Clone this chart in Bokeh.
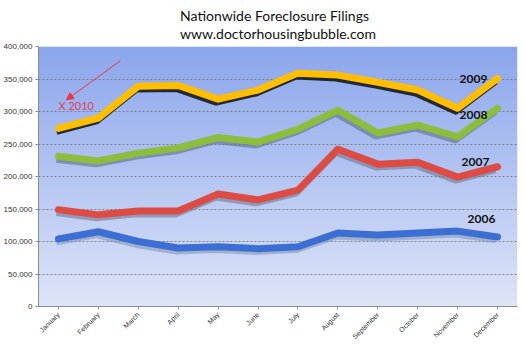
import numpy as np
from bokeh.plotting import figure
from bokeh.models import ColumnDataSource, NumeralTickFormatter, Title, Arrow, NormalHead, Label, FixedTicker
from bokeh.transform import dodge
from bokeh.core.properties import value
from bokeh.embed import file_html
from bokeh.resources import INLINE

months = ["January", "February", "March", "April", "May", "June", "July",
          "August", "September", "October", "November", "December"]
y2006 = [104000, 115000, 100000, 90000, 92000, 89000, 92000, 113000, 110000, 113000, 116000, 107000]
y2007 = [149000, 141000, 147000, 147000, 173000, 164000, 179000, 242000, 219000, 222000, 199000, 215000]
y2008 = [231000, 224000, 236000, 244000, 260000, 253000, 273000, 302000, 267000, 279000, 261000, 305000]
y2009 = [274000, 290000, 339000, 340000, 319000, 333000, 359000, 356000, 345000, 333000, 305000, 351000]
series_names = ["2006", "2007", "2008", "2009"]
series_vals = [y2006, y2007, y2008, y2009]
yticks = [0, 50000, 100000, 150000, 200000, 250000, 300000, 350000, 400000]
title_lines = ["Nationwide Foreclosure Filings", "www.doctorhousingbubble.com"]

colors = {"2006": "#3b6fd3", "2007": "#dc4b44", "2008": "#8dbd3d", "2009": "#ffbe00"}
shadows = {"2006": "#7f8fb0", "2007": "#6f7890", "2008": "#5f6e8c", "2009": "#111111"}
shadow_alpha = {"2006": 0.55, "2007": 0.6, "2008": 0.6, "2009": 0.85}
# label pixel offsets relative to the December point (style only)
lab_off = {"2006": (-16, -18), "2007": (-22, -5), "2008": (-24, 7), "2009": (-24, 1)}

FONT = "Lato"

p = figure(x_range=months, y_range=(0, 400000), width=524, height=348,
           output_backend="svg", toolbar_location=None,
           min_border_left=35, min_border_right=7, min_border_bottom=42, min_border_top=45)
p.outline_line_color = None
p.background_fill_color = "white"
p.border_fill_color = "white"

# title (two lines)
t = Title(text="\n".join(title_lines), align="center", text_font=FONT,
          text_font_size="14px", text_font_style="normal", text_color="#111111",
          standoff=8, offset=0, text_line_height=1.1)
p.add_layout(t, "above")

# gradient background of the plot area
n = 256
top = np.array([139, 166, 236])
bot = np.array([222, 229, 248])
frac = np.linspace(0, 1, n)[:, None]
cols = (bot * (1 - frac) + top * frac).astype(np.uint32)
img = np.empty((n, 1), dtype=np.uint32)
view = img.view(dtype=np.uint8).reshape((n, 1, 4))
view[:, 0, 0] = cols[:, 0]
view[:, 0, 1] = cols[:, 1]
view[:, 0, 2] = cols[:, 2]
view[:, 0, 3] = 255
p.image_rgba(image=[img], x=0, y=0, dw=len(months), dh=400000, level="image")

# grid
p.xgrid.grid_line_color = None
p.ygrid.grid_line_color = "#7f7f8a"
p.ygrid.grid_line_dash = "2 2"
p.ygrid.grid_line_width = 1
p.ygrid.level = "underlay"
p.yaxis.ticker = FixedTicker(ticks=yticks)
p.yaxis.formatter = NumeralTickFormatter(format="0,0")

for name, vals in zip(series_names, series_vals):
    src = ColumnDataSource(dict(x=months, y=vals))
    p.line(x=dodge("x", -0.05, range=p.x_range), y=dodge("y", -4500), source=src,
           line_color=shadows[name], line_width=7, line_alpha=shadow_alpha[name], line_join="round")
    p.line(x="x", y="y", source=src, line_color=colors[name], line_width=7,
           line_join="round", line_cap="round")

lab_src = ColumnDataSource(dict(
    x=[months[-1]] * len(series_names),
    y=[v[-1] for v in series_vals],
    t=series_names,
    xo=[lab_off[s][0] for s in series_names],
    yo=[lab_off[s][1] for s in series_names],
))
p.text(x="x", y="y", text="t", source=lab_src, x_offset="xo", y_offset="yo",
       text_align="center", text_baseline="middle", text_font=value(FONT),
       text_font_size="12px", text_font_style="bold", text_color="#111111")

# annotation: red arrow and "X 2010"
p.add_layout(Arrow(x_start=2.05, y_start=378000, x_end=0.7, y_end=318000,
                   line_color="#ee3344", line_width=1,
                   end=NormalHead(size=7, line_color="#ee3344", fill_color="#ee3344")))
p.add_layout(Label(x=0.5, y=309000, text="X 2010", text_color="#e0405a",
                   text_font=FONT, text_font_size="11px", text_baseline="middle"))

# axes
for ax in (p.xaxis, p.yaxis):
    ax.axis_line_color = "#8c8c8c"
    ax.major_tick_line_color = "#8c8c8c"
    ax.minor_tick_line_color = None
    ax.major_label_text_font = "Liberation Sans"
    ax.major_label_text_color = "#333333"
    ax.major_tick_in = 0
    ax.major_tick_out = 3
p.yaxis.major_label_text_font_size = "8px"
p.yaxis.major_label_standoff = 3
p.xaxis.major_label_text_font_size = "7px"
p.xaxis.major_label_orientation = np.pi / 4
p.xaxis.major_label_standoff = 4

open("out.html", "w").write(file_html(p, INLINE))
